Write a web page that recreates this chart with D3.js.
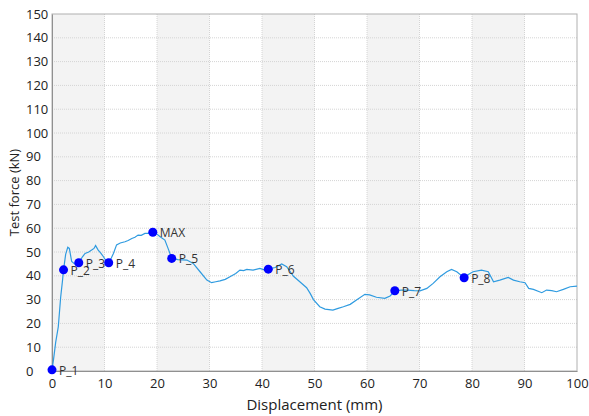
<!DOCTYPE html>
<html>
<head>
<meta charset="utf-8">
<script src="https://cdn.jsdelivr.net/npm/d3@7"></script>
<style>
  body { margin: 0; background: #fff; }
  text { font-family: "Open Sans", "Noto Sans", sans-serif; }
</style>
</head>
<body>
<script>
// traced curve (displacement mm, force kN)
const displacement = [0, 0.3, 0.7, 1.2, 1.65, 2.0, 2.2, 2.6, 3.0, 3.3, 3.75, 4.3, 5.1, 5.8, 6.3, 7.0, 7.55, 8.0, 8.3, 8.8, 9.3, 9.8, 10.4, 10.8, 11.3, 11.7, 12.3, 13.0, 13.9, 14.5, 15.2, 15.8, 16.4, 17.0, 17.7, 18.5, 19.2, 20.0, 20.6, 21.5, 22.2, 22.8, 24.0, 25.7, 26.9, 28.2, 29.5, 30.4, 31.2, 32.0, 33.0, 33.9, 35.0, 35.8, 36.5, 37.1, 38.3, 39.6, 40.4, 41.2, 42.5, 43.75, 44.7, 46.0, 47.2, 48.5, 49.2, 49.8, 51.0, 52.0, 53.5, 54.5, 55.5, 56.8, 58.0, 59.6, 60.5, 61.8, 63.4, 64.4, 65.3, 66.5, 67.6, 69.0, 70.1, 71.4, 72.6, 73.9, 75.2, 76.1, 77.1, 78.5, 79.3, 80.2, 81.8, 83.1, 84.1, 85.3, 86.9, 87.9, 89.1, 90.1, 90.8, 91.7, 93.3, 94.2, 95.2, 96.1, 97.4, 98.7, 100];
const force = [0.5, 5, 12, 18.6, 31, 38, 42.5, 49, 52, 51.5, 46, 45, 45.5, 48, 49.4, 50, 50.8, 51.5, 52.7, 50.8, 49.5, 48, 46, 45.5, 47.5, 49.4, 53, 53.8, 54.3, 54.8, 55.7, 56.2, 57.1, 57, 57.8, 57.8, 58.3, 57.5, 56.4, 55, 51, 47.3, 46.8, 46.6, 45.2, 41.7, 38.2, 37.1, 37.5, 37.9, 38.5, 39.6, 41, 42.4, 42.2, 42.7, 42.4, 43.1, 42.5, 42.8, 43.5, 45, 43.8, 39.8, 37.5, 35, 32.5, 30, 27, 26, 25.6, 26.3, 27, 28, 29.8, 32.2, 32, 31, 30.5, 31.5, 33.6, 34, 34, 33.8, 33.7, 34.7, 36.8, 39.6, 41.7, 42.7, 41.7, 39.2, 40.5, 41.7, 42.4, 41.7, 37.5, 38.2, 39.3, 38.2, 37.5, 37.1, 34.7, 34.3, 32.9, 34, 33.8, 33.3, 34.3, 35.4, 35.7];

// marked points
const pointNames = ["P_1", "P_2", "P_3", "P_4", "MAX", "P_5", "P_6", "P_7", "P_8"];
const pointX = [0, 2.2, 5.1, 10.8, 19.2, 22.8, 41.2, 65.3, 78.5];
const pointY = [0.5, 42.5, 45.5, 45.5, 58.3, 47.3, 42.8, 33.7, 39.2];

const xTicks = d3.range(0, 101, 10);
const yTicks = d3.range(0, 151, 10);

const width = 589, height = 416;
const margin = { left: 52, right: 12, top: 14, bottom: 45 };

const svg = d3.select("body").append("svg")
  .attr("width", width)
  .attr("height", height);

const x = d3.scaleLinear().domain([0, 100]).range([margin.left, width - margin.right]);
const y = d3.scaleLinear().domain([0, 150]).range([height - margin.bottom, margin.top]);

// alternating bands
svg.append("g")
  .selectAll("rect")
  .data(xTicks.slice(0, -1).filter((d, i) => i % 2 === 0))
  .enter()
  .append("rect")
  .attr("x", d => x(d))
  .attr("y", y(150))
  .attr("width", d => x(d + 10) - x(d))
  .attr("height", y(0) - y(150))
  .attr("fill", "#f3f3f3");

// grid
const grid = svg.append("g")
  .attr("stroke", "#d4d4d4")
  .attr("stroke-dasharray", "1,1");
grid.selectAll(".gx")
  .data(xTicks.slice(1, -1))
  .enter()
  .append("line")
  .attr("x1", d => x(d)).attr("x2", d => x(d))
  .attr("y1", y(0)).attr("y2", y(150));
grid.selectAll(".gy")
  .data(yTicks.slice(1, -1))
  .enter()
  .append("line")
  .attr("y1", d => y(d)).attr("y2", d => y(d))
  .attr("x1", x(0)).attr("x2", x(100));

// frame
svg.append("rect")
  .attr("x", x(0)).attr("y", y(150))
  .attr("width", x(100) - x(0))
  .attr("height", y(0) - y(150))
  .attr("fill", "none")
  .attr("stroke", "#b0b0b0");

// axes
const xAxis = svg.append("g")
  .attr("transform", `translate(0,${y(0)})`)
  .call(d3.axisBottom(x).tickValues(xTicks).tickSize(0).tickPadding(8));
const yAxis = svg.append("g")
  .attr("transform", `translate(${x(0)},0)`)
  .call(d3.axisLeft(y).tickValues(yTicks).tickSize(0));
// y labels are left aligned in the original
yAxis.selectAll("text")
  .attr("text-anchor", "start")
  .attr("x", 26 - x(0));
[xAxis, yAxis].forEach(a => {
  a.select(".domain").attr("stroke", "#909090");
  a.selectAll("text")
    .attr("font-family", "Liberation Sans, Arial, sans-serif")
    .attr("font-size", 13)
    .attr("fill", "#222");
});

// axis titles
svg.append("text")
  .attr("x", (x(0) + x(100)) / 2)
  .attr("y", 410)
  .attr("text-anchor", "middle")
  .attr("font-size", 15)
  .attr("fill", "#222")
  .text("Displacement (mm)");
svg.append("text")
  .attr("transform", `translate(19,${(y(0) + y(150)) / 2}) rotate(-90)`)
  .attr("text-anchor", "middle")
  .attr("font-size", 13)
  .attr("fill", "#222")
  .text("Test force (kN)");

// curve
const curve = displacement.map((d, i) => [d, force[i]]);
svg.append("path")
  .datum(curve)
  .attr("fill", "none")
  .attr("stroke", "#2f9be0")
  .attr("stroke-width", 1.2)
  .attr("d", d3.line().x(d => x(d[0])).y(d => y(d[1])));

// markers and labels
const pts = pointNames.map((n, i) => ({ name: n, x: pointX[i], y: pointY[i] }));
const pg = svg.append("g");
pg.selectAll("circle")
  .data(pts)
  .enter()
  .append("circle")
  .attr("cx", d => x(d.x))
  .attr("cy", d => y(d.y))
  .attr("r", 4.5)
  .attr("fill", "#0000ff");
pg.selectAll("text")
  .data(pts)
  .enter()
  .append("text")
  .attr("x", d => x(d.x) + 7)
  .attr("y", d => y(d.y) + 5)
  .attr("font-size", 12)
  .attr("fill", "#333")
  .text(d => d.name);
</script>
</body>
</html>
